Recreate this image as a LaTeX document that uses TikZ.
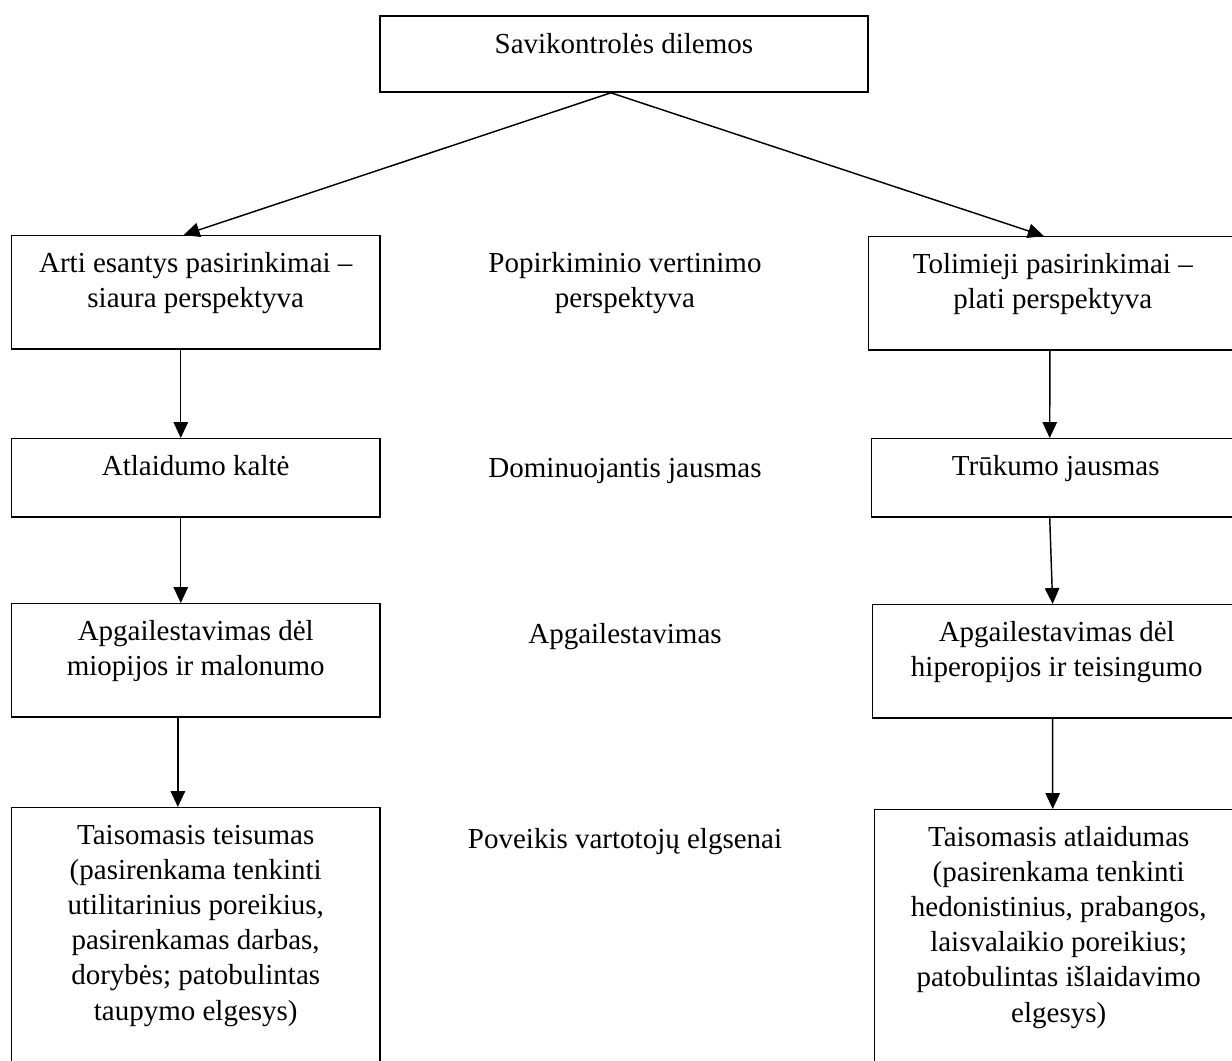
\documentclass[tikz,border=0pt]{standalone}
\usepackage{fontspec}
\setmainfont{Liberation Serif}
\usetikzlibrary{arrows.meta}
\newcommand{\bx}[3]{\parbox[t][#1][t]{#2}{\centering\vspace*{5.2pt}\strut#3\par}}

\begin{document}
\begin{tikzpicture}[x=0.4138pt, y=-0.4138pt,
  every node/.style={inner sep=0pt, anchor=north west, font=\fontsize{12pt}{14.5pt}\selectfont},
  box/.style={draw, line width=0.6pt},
  link/.style={-{Triangle[length=6.6pt,width=6pt]}, line width=0.6pt}]
\useasboundingbox (0,0) rectangle (1232,1061);
\clip (0,0) rectangle (1232,1061);
\node[box, line width=0.8pt] (top) at (379,15) {\bx{31.4pt}{201.9pt}{Savikontrolės dilemos}};
% left column
\node[box] (L1) at (11,235) {\bx{46.8pt}{152.3pt}{Arti esantys pasirinkimai –\\siaura perspektyva}};
\node[box] (L2) at (11,438) {\bx{32.3pt}{152.3pt}{Atlaidumo kaltė}};
\node[box] (L3) at (11,603) {\bx{46.8pt}{152.3pt}{Apgailestavimas dėl\\miopijos ir malonumo}};
\node[box] (L4) at (11,807) {\bx{124pt}{152.3pt}{Taisomasis teisumas\\(pasirenkama tenkinti\\utilitarinius poreikius,\\pasirenkamas darbas,\\dorybės; patobulintas\\taupymo elgesys)}};
% middle labels
\node[anchor=north] (M1) at (625,235) {\bx{30pt}{150pt}{Popirkiminio vertinimo\\perspektyva}};
\node[anchor=north] (M2) at (625,440) {\bx{30pt}{150pt}{Dominuojantis jausmas}};
\node[anchor=north] (M3) at (625,606) {\bx{30pt}{150pt}{Apgailestavimas}};
\node[anchor=north] (M4) at (625,811) {\bx{30pt}{150pt}{Poveikis vartotojų elgsenai}};
% right column
\node[box] (R1) at (868,236) {\bx{46.8pt}{152.3pt}{Tolimieji pasirinkimai –\\plati perspektyva}};
\node[box] (R2) at (871,438) {\bx{32.3pt}{152.3pt}{Trūkumo jausmas}};
\node[box] (R3) at (872,604) {\bx{46.8pt}{152.3pt}{Apgailestavimas dėl\\hiperopijos ir teisingumo}};
\node[box] (R4) at (874,809) {\bx{124pt}{152.3pt}{Taisomasis atlaidumas\\(pasirenkama tenkinti\\hedonistinius, prabangos,\\laisvalaikio poreikius;\\patobulintas išlaidavimo\\elgesys)}};
\path[link]
  ([xshift=-5.4pt]top.south) edge ([xshift=-5pt]L1.north)
  ([xshift=-5.4pt]top.south) edge ([xshift=-3.7pt]R1.north)
  ([xshift=-6.2pt]L1.south) edge ([xshift=-6.2pt]L2.north)
  ([xshift=-6.2pt]L2.south) edge ([xshift=-6.2pt]L3.north)
  ([xshift=-7.4pt]L3.south) edge ([xshift=-7.4pt]L4.north)
  ([xshift=-1.2pt]R1.south) edge ([xshift=-2.5pt]R2.north)
  ([xshift=-2.5pt]R2.south) edge ([xshift=-1.7pt]R3.north)
  ([xshift=-1.7pt]R3.south) edge ([xshift=-2.5pt]R4.north);
\end{tikzpicture}
\end{document}
